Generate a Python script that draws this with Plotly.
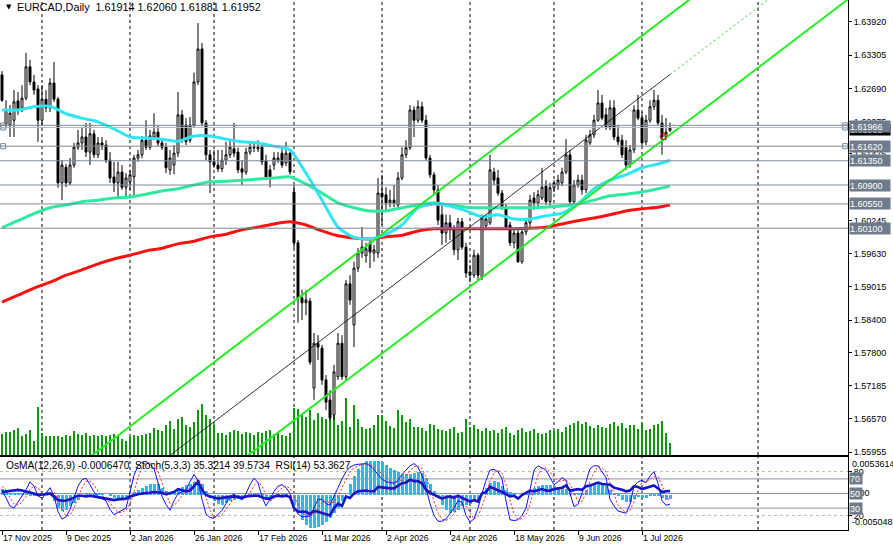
import plotly.graph_objects as go

# ------------------------------------------------------------------ data
bar_index = list(range(168))

open_ = [1.6294,1.6203,1.6201,1.6210,1.6246,1.6233,1.6251,1.6309,1.6281,1.6268,
 1.6210,1.6249,1.6233,1.6279,1.6249,1.6094,1.6123,1.6094,1.6127,1.6160,
 1.6168,1.6179,1.6151,1.6185,1.6146,1.6168,1.6164,1.6136,1.6105,1.6094,
 1.6114,1.6086,1.6096,1.6105,1.6140,1.6146,1.6173,1.6160,1.6179,1.6188,
 1.6168,1.6160,1.6118,1.6127,1.6149,1.6220,1.6201,1.6173,1.6201,1.6281,
 1.6342,1.6205,1.6146,1.6133,1.6127,1.6120,1.6136,1.6146,1.6157,1.6151,
 1.6120,1.6114,1.6151,1.6160,1.6157,1.6160,1.6135,1.6118,1.6127,1.6136,
 1.6149,1.6131,1.6149,1.6077,1.5983,1.5881,1.5872,1.5875,1.5714,1.5797,
 1.5788,1.5729,1.5692,1.5664,1.5735,1.5797,1.5735,1.5907,1.5831,1.5936,
 1.5964,1.5959,1.5983,1.5964,1.5964,1.6075,1.6072,1.6057,1.6062,1.6053,
 1.6103,1.6146,1.6159,1.6229,1.6210,1.6235,1.6210,1.6140,1.6109,1.6081,
 1.6035,1.6001,1.6020,1.6007,1.5970,1.6022,1.5975,1.5929,1.5923,1.5960,
 1.5920,1.6014,1.6020,1.6114,1.6103,1.6075,1.6049,1.6016,1.5983,1.6001,
 1.5948,1.6003,1.6020,1.6066,1.6057,1.6066,1.6088,1.6059,1.6085,1.6090,
 1.6094,1.6114,1.6146,1.6059,1.6090,1.6099,1.6081,1.6168,1.6183,1.6210,
 1.6242,1.6220,1.6198,1.6233,1.6179,1.6173,1.6159,1.6127,1.6155,1.6229,
 1.6214,1.6170,1.6210,1.6235,1.6247,1.6205,1.6179,1.61914]

high = [1.6301,1.6247,1.6238,1.6266,1.6262,1.6275,1.6335,1.6322,1.6294,1.6275,
 1.6275,1.6266,1.6288,1.6318,1.6253,1.6136,1.6129,1.6140,1.6168,1.6192,
 1.6196,1.6205,1.6205,1.6192,1.6179,1.6179,1.6173,1.6151,1.6133,1.6133,
 1.6127,1.6112,1.6118,1.6146,1.6155,1.6181,1.6210,1.6192,1.6223,1.6201,
 1.6177,1.6168,1.6155,1.6164,1.6262,1.6229,1.6214,1.6216,1.6298,1.6390,
 1.6353,1.6210,1.6155,1.6155,1.6155,1.6155,1.6170,1.6173,1.6205,1.6159,
 1.6136,1.6159,1.6170,1.6168,1.6173,1.6168,1.6146,1.6127,1.6151,1.6151,
 1.6159,1.6170,1.6155,1.6090,1.5988,1.5896,1.5896,1.5881,1.5816,1.5812,
 1.5794,1.5738,1.5710,1.5757,1.5816,1.5812,1.5914,1.5923,1.5948,1.5973,
 1.6012,1.5983,1.5992,1.5979,1.6103,1.6109,1.6086,1.6081,1.6090,1.6114,
 1.6160,1.6173,1.6238,1.6236,1.6247,1.6244,1.6220,1.6146,1.6114,1.6090,
 1.6053,1.6035,1.6035,1.6016,1.6029,1.6029,1.5983,1.5942,1.5970,1.5964,
 1.6035,1.6035,1.6146,1.6122,1.6118,1.6081,1.6055,1.6022,1.6010,1.6007,
 1.6010,1.6029,1.6072,1.6077,1.6081,1.6122,1.6099,1.6094,1.6099,1.6109,
 1.6122,1.6175,1.6155,1.6099,1.6109,1.6109,1.6183,1.6192,1.6220,1.6266,
 1.6257,1.6233,1.6247,1.6247,1.6201,1.6183,1.6173,1.6164,1.6238,1.6257,
 1.6225,1.6220,1.6247,1.6266,1.6257,1.6220,1.6214,1.62060]

low = [1.6244,1.6196,1.6179,1.6179,1.6220,1.6225,1.6247,1.6275,1.6257,1.6170,
 1.6201,1.6225,1.6225,1.6244,1.6085,1.6062,1.6086,1.6090,1.6122,1.6155,
 1.6155,1.6142,1.6127,1.6140,1.6140,1.6155,1.6131,1.6094,1.6077,1.6068,
 1.6081,1.6068,1.6081,1.6068,1.6133,1.6140,1.6155,1.6155,1.6173,1.6162,
 1.6155,1.6112,1.6109,1.6110,1.6142,1.6168,1.6164,1.6168,1.6196,1.6275,
 1.6199,1.6136,1.6075,1.6122,1.6114,1.6114,1.6127,1.6140,1.6142,1.6112,
 1.6090,1.6109,1.6146,1.6151,1.6151,1.6127,1.6099,1.6086,1.6118,1.6131,
 1.6122,1.6125,1.6109,1.5973,1.5835,1.5840,1.5849,1.5757,1.5692,1.5766,
 1.5720,1.5673,1.5655,1.5655,1.5729,1.5729,1.5729,1.5868,1.5790,1.5929,
 1.5955,1.5946,1.5936,1.5948,1.5955,1.6016,1.6040,1.6049,1.6049,1.6049,
 1.6099,1.6140,1.6155,1.6179,1.6205,1.6205,1.6136,1.6103,1.6072,1.6016,
 1.5979,1.5983,1.5988,1.5960,1.5951,1.5970,1.5918,1.5910,1.5918,1.5914,
 1.5914,1.6007,1.6016,1.6090,1.6070,1.6044,1.6007,1.5977,1.5973,1.5946,
 1.5944,1.5997,1.6010,1.6044,1.6049,1.6062,1.6053,1.6049,1.6077,1.6081,
 1.6088,1.6110,1.6053,1.6053,1.6085,1.6072,1.6075,1.6164,1.6177,1.6207,
 1.6210,1.6192,1.6192,1.6173,1.6164,1.6140,1.6118,1.6122,1.6149,1.6210,
 1.6160,1.6164,1.6205,1.6229,1.6201,1.6146,1.6173,1.61881]

close = [1.6247,1.6229,1.6223,1.6244,1.6229,1.6251,1.6309,1.6281,1.6266,1.6210,
 1.6249,1.6233,1.6279,1.6249,1.6094,1.6127,1.6094,1.6127,1.6160,1.6168,
 1.6179,1.6151,1.6185,1.6146,1.6168,1.6164,1.6136,1.6103,1.6094,1.6114,
 1.6086,1.6103,1.6109,1.6140,1.6146,1.6173,1.6160,1.6181,1.6188,1.6168,
 1.6160,1.6122,1.6140,1.6149,1.6220,1.6173,1.6170,1.6201,1.6281,1.6342,
 1.6205,1.6146,1.6133,1.6127,1.6120,1.6136,1.6146,1.6160,1.6149,1.6118,
 1.6114,1.6151,1.6160,1.6159,1.6160,1.6133,1.6105,1.6105,1.6140,1.6140,
 1.6127,1.6149,1.6114,1.5983,1.5881,1.5872,1.5877,1.5762,1.5797,1.5790,
 1.5729,1.5688,1.5659,1.5744,1.5797,1.5735,1.5907,1.5877,1.5936,1.5964,
 1.5975,1.5972,1.5966,1.5970,1.6075,1.6068,1.6057,1.6062,1.6057,1.6103,
 1.6146,1.6159,1.6229,1.6210,1.6235,1.6210,1.6140,1.6109,1.6081,1.6025,
 1.6001,1.6020,1.6007,1.5970,1.6022,1.5975,1.5927,1.5923,1.5960,1.5923,
 1.6029,1.6027,1.6118,1.6099,1.6075,1.6049,1.6012,1.5983,1.6001,1.5948,
 1.6003,1.6020,1.6062,1.6057,1.6072,1.6086,1.6059,1.6085,1.6094,1.6099,
 1.6114,1.6146,1.6059,1.6090,1.6099,1.6081,1.6173,1.6183,1.6210,1.6242,
 1.6214,1.6198,1.6233,1.6179,1.6170,1.6146,1.6127,1.6155,1.6229,1.6214,
 1.6168,1.6210,1.6235,1.6247,1.6205,1.6179,1.6188,1.61952]

# tick volume (thousands)
volume = [21,23,23,25,27,19,21,25,14,48,
 22,19,19,19,19,18,20,19,24,21,
 20,22,19,20,19,20,19,20,21,20,
 16,14,18,20,19,20,21,22,27,25,
 24,30,34,26,36,38,30,28,33,45,
 51,40,36,30,22,22,20,23,25,24,
 21,23,22,20,23,22,24,25,21,23,
 20,19,22,47,46,40,38,45,35,42,
 38,36,40,40,30,34,57,28,50,36,
 28,26,27,30,40,40,34,29,27,45,
 40,33,36,28,28,27,24,31,30,26,
 25,24,26,28,22,23,36,28,30,26,
 24,27,24,25,22,26,28,22,20,25,
 27,23,24,26,22,21,22,25,24,26,
 23,28,30,32,34,31,33,29,27,30,
 28,27,31,33,29,32,27,30,30,26,
 32,25,26,30,31,34,22,12]

# moving averages, read every 4th bar
ma_bars = [0,4,8,12,16,20,24,28,32,36,40,44,48,52,56,60,64,68,72,76,80,84,88,92,
           96,100,104,108,112,116,120,124,128,132,136,140,144,148,152,156,160,164,167]
ma_fast = [1.6229,1.6229,1.6235,1.6236,1.6222,1.6214,1.6207,1.6194,1.6179,1.6177,1.6175,
           1.6171,1.6181,1.6181,1.6175,1.6170,1.6168,1.6162,1.6155,1.6112,1.6062,1.6012,
           1.5993,1.5990,1.5999,1.6016,1.6048,1.6055,1.6051,1.6042,1.6031,1.6035,1.6027,
           1.6027,1.6033,1.6038,1.6055,1.6083,1.6099,1.6109,1.6122,1.6129,1.6136]
ma_mid = [1.6011,1.6024,1.6037,1.6048,1.6053,1.6059,1.6062,1.6066,1.6068,1.6073,1.6079,
          1.6083,1.6090,1.6096,1.6097,1.6099,1.6101,1.6103,1.6105,1.6092,1.6075,1.6057,
          1.6048,1.6042,1.6042,1.6048,1.6053,1.6057,1.6053,1.6049,1.6048,1.6048,1.6048,
          1.6048,1.6049,1.6051,1.6055,1.6062,1.6070,1.6073,1.6077,1.6083,1.6088]
ma_slow = [1.5873,1.5886,1.5899,1.5910,1.5923,1.5933,1.5944,1.5953,1.5960,1.5968,1.5973,
           1.5981,1.5986,1.5994,1.5999,1.6007,1.6012,1.6018,1.6022,1.6016,1.6005,1.5996,
           1.5992,1.5990,1.5994,1.5997,1.6005,1.6009,1.6009,1.6009,1.6009,1.6009,1.6009,
           1.6010,1.6012,1.6018,1.6024,1.6029,1.6035,1.6042,1.6046,1.6049,1.6053]

# equidistant channel (anchor bars and prices)
chan_upper_bars = [50, 150]
chan_upper = [1.57446, 1.63099]
chan_lower_bars = [100, 167]
chan_lower = [1.58061, 1.61834]

# horizontal levels
levels = [1.62005, 1.61966, 1.61620, 1.61350, 1.60900, 1.60550, 1.60100]
level_labels = [1.61966, 1.61620, 1.61350, 1.60900, 1.60550, 1.60100]
bid = 1.61952

price_ticks = [1.63920, 1.63305, 1.62690, 1.62075, 1.61475, 1.60860, 1.60245,
               1.59630, 1.59015, 1.58400, 1.57800, 1.57185, 1.56570, 1.55955]

tick_bars = [0, 16, 32, 48, 64, 80, 96, 112, 128, 144, 160]
tick_labels = ["17 Nov 2025", "9 Dec 2025", "2 Jan 2026", "26 Jan 2026", "17 Feb 2026",
               "11 Mar 2026", "2 Apr 2026", "24 Apr 2026", "18 May 2026", "9 Jun 2026",
               "1 Jul 2026"]
grid_bars = [10, 32, 53, 73, 95, 117, 138, 160, 189]

# indicators
osma_e4 = [8.2,7,1,1,1.4,2.4,1,-1,-1.4,0,
 2.4,3.9,2.9,-9.7,-19.3,-23.2,-21.7,-16.9,-12.1,-7.2,
 -3.9,-2.4,0,1.4,1,1.4,0,-2.4,-4.8,-5.8,
 -4.8,-3.9,0,3.9,7.2,9.7,12.1,14.5,15.5,14.5,
 9.7,5.8,3.9,4.8,7.2,10.6,13.5,15.5,18.4,20.3,
 14.5,4.8,-4.8,-9.7,-13.5,-14.5,-12.1,-9.7,-7.2,-5.8,
 -4.8,-3.9,-2.4,-1.4,-1.4,-2.4,-3.9,-4.8,-3.9,-2.4,
 -1.4,-1,-4.8,-14.5,-26.6,-36.2,-43.5,-47.3,-47.3,-45.9,
 -43.5,-38.6,-33.8,-26.6,-19.3,-9.7,0,14.5,26.6,36.2,
 43.5,47.3,48.3,48.3,47.3,45.9,42.5,38.6,34.8,31.9,
 29.9,29,29.9,31.4,32.8,31.4,24.2,14.5,4.8,-4.8,
 -15,-22,-26.6,-24.2,-21.7,-16.9,-14.5,-13.5,-10.6,-7.2,
 0,9.7,16.9,19.3,18.4,12.1,7.2,3.9,1,0,
 -1.4,1.4,5.8,9.7,12.1,13.5,13.5,13.5,12.1,10.6,
 9.7,8.7,4.8,2.4,1,2.4,7.2,12.1,14.5,15.5,
 14.5,12.1,7.2,2.4,-2.4,-7.2,-10.6,-10.6,-5.8,-3.9,
 -4.8,-4.8,-2.4,-1,-2.4,-4.8,-7.2,-6.47]
osma_max = 0.0053614
osma_min = -0.005048

stoch_main = [55,45,33,30,38,46,55,66,60,47,
 43,50,58,47,25,15,18,28,45,60,
 69,71,62,52,46,43,40,28,21,24,
 27,30,52,75,88,93,94,90,84,66,
 46,35,27,40,50,52,55,66,76,68,
 42,22,17,16,21,27,36,46,49,45,
 41,50,62,71,65,45,33,42,53,60,
 62,58,50,32,22,18,19,19,30,42,
 42,36,34,45,58,70,80,86,89,90,
 91,91,88,83,76,70,66,65,64,68,
 76,82,88,91,86,75,58,36,20,12,
 12,15,22,30,40,38,20,11,15,30,
 50,68,82,83,80,70,40,14,13,14,
 20,30,55,82,88,85,82,72,62,66,
 72,68,50,32,35,50,66,84,88,88,
 80,72,42,33,26,24,23,35,60,66,
 68,65,74,80,64,40,34,35.32]

stoch_signal = [60,55,44,36,34,38,46,56,60,58,
 50,47,50,52,43,29,19,20,30,44,
 58,67,67,62,53,47,43,37,30,24,
 24,27,36,52,72,85,92,92,89,80,
 65,49,36,34,39,47,52,58,66,70,
 62,44,27,18,18,21,28,36,44,47,
 45,45,51,61,66,60,48,40,43,52,
 58,60,57,47,35,24,20,19,23,30,
 38,40,37,38,46,58,69,79,85,88,
 90,91,90,87,82,76,71,67,65,66,
 69,75,82,87,88,84,73,56,38,23,
 15,13,16,22,31,36,33,23,15,19,
 32,49,67,78,82,78,63,41,22,14,
 16,21,35,56,75,85,85,80,72,67,
 67,69,63,50,39,39,50,67,79,87,
 85,80,65,49,34,28,24,27,39,54,
 65,66,69,73,73,61,46,39.57]

rsi = [52,53,54,55,55,54,53,51,50,48,
 48,49,50,46,41,40,40,42,45,47,
 47,46,47,46,45,44,43,42,41,42,
 42,43,46,48,49,50,50,51,52,52,
 51,49,51,52,56,54,53,54,60,66,
 55,48,46,44,43,44,45,46,46,45,
 44,46,47,47,47,45,43,43,46,47,
 46,47,45,30,25,25,25,22,26,25,
 23,21,20,30,36,33,46,44,50,53,
 54,54,53,53,59,58,57,57,57,61,
 64,65,69,67,67,64,55,51,48,46,
 43,45,46,44,47,44,41,39,41,39,
 50,52,59,57,55,52,49,46,47,43,
 48,51,54,53,54,56,54,54,56,57,
 58,61,54,55,56,55,60,61,63,65,
 63,62,62,58,57,55,53,54,60,59,
 56,58,60,61,57,52,53,53.36]

# ------------------------------------------------------------------ helpers
FONT = "Liberation Sans"
X_RANGE = [-0.5, 211.5]
MAIN_DOM = [0.14151, 1.0]
IND_DOM = [0.0, 0.13774]


def line_at(bars, prices, x):
    slope = (prices[1] - prices[0]) / (bars[1] - bars[0])
    return prices[0] + slope * (x - bars[0])


fig = go.Figure()

# volume (base axis of main panel, drawn underneath)
fig.add_trace(go.Bar(x=bar_index, y=volume, width=0.18, marker=dict(color="#119411", line=dict(width=0)),
                     xaxis="x", yaxis="y", hoverinfo="skip"))

# candles
fig.add_trace(go.Candlestick(
    x=bar_index, open=open_, high=high, low=low, close=close,
    increasing=dict(line=dict(color="black", width=1), fillcolor="white"),
    decreasing=dict(line=dict(color="black", width=1), fillcolor="black"),
    whiskerwidth=0, xaxis="x", yaxis="y5", hoverinfo="skip"))

# moving averages
for vals, col in [(ma_slow, "#ff1010"), (ma_mid, "#2eeaa0"), (ma_fast, "#30e6f2")]:
    fig.add_trace(go.Scatter(x=ma_bars, y=vals, mode="lines", line=dict(color=col, width=3, shape="spline", smoothing=0.6),
                             xaxis="x", yaxis="y5", hoverinfo="skip"))

# channel lines
xe = [X_RANGE[0] - 1, X_RANGE[1] + 1]
fig.add_trace(go.Scatter(x=xe, y=[line_at(chan_upper_bars, chan_upper, v) for v in xe], mode="lines",
                         line=dict(color="#22ee22", width=2), xaxis="x", yaxis="y5", hoverinfo="skip"))
fig.add_trace(go.Scatter(x=xe, y=[line_at(chan_lower_bars, chan_lower, v) for v in xe], mode="lines",
                         line=dict(color="#22ee22", width=2), xaxis="x", yaxis="y5", hoverinfo="skip"))
mid_solid = [40, 167]
mid_ext = [167, 215]


def mid(v):
    return (line_at(chan_upper_bars, chan_upper, v) + line_at(chan_lower_bars, chan_lower, v)) / 2


fig.add_trace(go.Scatter(x=mid_solid, y=[mid(v) for v in mid_solid], mode="lines",
                         line=dict(color="black", width=0.8), xaxis="x", yaxis="y5", hoverinfo="skip"))
fig.add_trace(go.Scatter(x=mid_ext, y=[mid(v) for v in mid_ext], mode="lines",
                         line=dict(color="#22cc22", width=1, dash="2px,3px"), xaxis="x", yaxis="y5", hoverinfo="skip"))

# level handles & alert circle
fig.add_trace(go.Scatter(x=[0.3, 0.3, 0.3, 210.8, 210.8, 210.8], y=[levels[0], levels[1], levels[2]] * 2,
                         mode="markers", marker=dict(symbol="square-open", size=5, color="#778899", line=dict(width=1)),
                         xaxis="x", yaxis="y5", hoverinfo="skip"))
fig.add_trace(go.Scatter(x=[165.3], y=[1.61795], mode="markers",
                         marker=dict(symbol="circle-open", size=6, color="red", line=dict(width=1)),
                         xaxis="x", yaxis="y5", hoverinfo="skip"))

# indicator panel
fig.add_trace(go.Bar(x=bar_index, y=[v * 1e-4 for v in osma_e4], width=0.75,
                     marker=dict(color="#2cb8ee", line=dict(width=0)), xaxis="x2", yaxis="y2", hoverinfo="skip"))
fig.add_trace(go.Scatter(x=bar_index, y=stoch_main, mode="lines", line=dict(color="#1010ff", width=1),
                         xaxis="x2", yaxis="y4", hoverinfo="skip"))
fig.add_trace(go.Scatter(x=bar_index, y=stoch_signal, mode="lines", line=dict(color="#ff2020", width=1, dash="2px,2px"),
                         xaxis="x2", yaxis="y4", hoverinfo="skip"))
fig.add_trace(go.Scatter(x=bar_index, y=rsi, mode="lines", line=dict(color="#1414c8", width=2.6),
                         xaxis="x2", yaxis="y4", hoverinfo="skip"))

shapes = []
for b in grid_bars:
    for dom in (MAIN_DOM, IND_DOM):
        shapes.append(dict(type="line", xref="x", yref="paper", x0=b, x1=b, y0=dom[0], y1=dom[1],
                           line=dict(color="black", width=1, dash="3px,3px"), layer="below"))
for i, lv in enumerate(levels):
    shapes.append(dict(type="line", xref="x domain", yref="y5", x0=0, x1=1, y0=lv, y1=lv,
                       line=dict(color="#b4b8bc" if i == 1 else "#7d8a98", width=1), layer="above"))
for lv, dash, col in [(80, "3px,3px", "#b8b8b8"), (70, "solid", "#8a94a0"), (50, "solid", "#8a94a0"),
                      (30, "solid", "#8a94a0"), (20, "3px,3px", "#b8b8b8")]:
    shapes.append(dict(type="line", xref="x2 domain", yref="y4", x0=0, x1=1, y0=lv, y1=lv,
                       line=dict(color=col, width=1, dash=dash), layer="below"))

ann = []
ann.append(dict(xref="paper", yref="paper", x=0, y=1, xanchor="left", yanchor="middle", xshift=4, yshift=-7,
                text="▼", showarrow=False, font=dict(family="DejaVu Sans", size=7, color="black")))
ann.append(dict(xref="paper", yref="paper", x=0, y=1, xanchor="left", yanchor="middle", xshift=15, yshift=-7,
                text="EURCAD,Daily  1.61914 1.62060 1.61881 1.61952", showarrow=False,
                font=dict(family=FONT, size=10.8, color="black")))
ann.append(dict(xref="paper", yref="y4", x=0, y=88, xanchor="left", yanchor="middle", xshift=4,
                text="OsMA(12,26,9) -0.0006470  Stoch(5,3,3) 35.3214 39.5734  RSI(14) 53.3627", showarrow=False,
                font=dict(family=FONT, size=10.2, color="black")))


def box(y, text, yref="y5", bg="#6e7b8b", w=40, yshift=0):
    return dict(xref="paper", yref=yref, x=1, y=y, xanchor="left", yanchor="middle", xshift=1, yshift=yshift,
                text=text, showarrow=False, bgcolor=bg, width=w, height=11, align="left", borderpad=0,
                font=dict(family=FONT, size=9, color="white"))


ann.append(box(bid, f"{bid:.5f}", bg="black", yshift=-1))
for lv in level_labels:
    ann.append(box(lv, f"{lv:.5f}", yshift=1 if lv == 1.61966 else 0))

plain = dict(showarrow=False, xref="paper", x=1, xanchor="left", yanchor="middle", xshift=2,
             font=dict(family=FONT, size=9, color="black"))
ann.append(dict(plain, yref="y4", y=90.4, text="0.0053614"))
ann.append(dict(plain, yref="y4", y=50, text="0.00"))
ann.append(dict(plain, yref="y4", y=11, text="-0.005048"))
for v in (70, 50, 30):
    ann.append(box(v, str(v), yref="y4", w=12))

fig.update_layout(
    width=893, height=549, margin=dict(l=0, r=45, t=0, b=19),
    paper_bgcolor="white", plot_bgcolor="white", showlegend=False, bargap=0,
    xaxis=dict(domain=[0, 1], range=X_RANGE, anchor="y", showticklabels=False, ticks="", showgrid=False,
               zeroline=False, showline=True, linecolor="black", linewidth=1, rangeslider=dict(visible=False)),
    yaxis=dict(domain=MAIN_DOM, range=[0, 455], visible=False, fixedrange=True),
    yaxis5=dict(overlaying="y", anchor="x", side="right", range=[1.55900, 1.64327], tickvals=price_ticks,
                ticktext=[f"{v:.5f}" for v in price_ticks], ticks="outside", ticklen=3, tickcolor="black",
                tickfont=dict(family=FONT, size=9, color="black"), showgrid=False, zeroline=False,
                showline=True, linecolor="black", linewidth=1, mirror=True),
    xaxis2=dict(domain=[0, 1], range=X_RANGE, anchor="y2", tickvals=tick_bars, ticktext=tick_labels,
                ticks="outside", ticklen=4, tickcolor="black", ticklabelposition="outside right",
                tickfont=dict(family=FONT, size=8.6, color="black"), showgrid=False, zeroline=False,
                showline=True, linecolor="black", linewidth=1, mirror=True),
    yaxis2=dict(domain=IND_DOM, range=[osma_min, osma_max], visible=False),
    yaxis4=dict(overlaying="y2", anchor="x2", side="right", range=[0, 100], tickvals=[20, 80],
                ticktext=["20", "80"], ticks="outside", ticklen=3, tickcolor="black",
                tickfont=dict(family=FONT, size=9, color="black"), showgrid=False, zeroline=False,
                showline=True, linecolor="black", linewidth=1, mirror=True),
    shapes=shapes, annotations=ann,
)

fig.write_html("out.html")
